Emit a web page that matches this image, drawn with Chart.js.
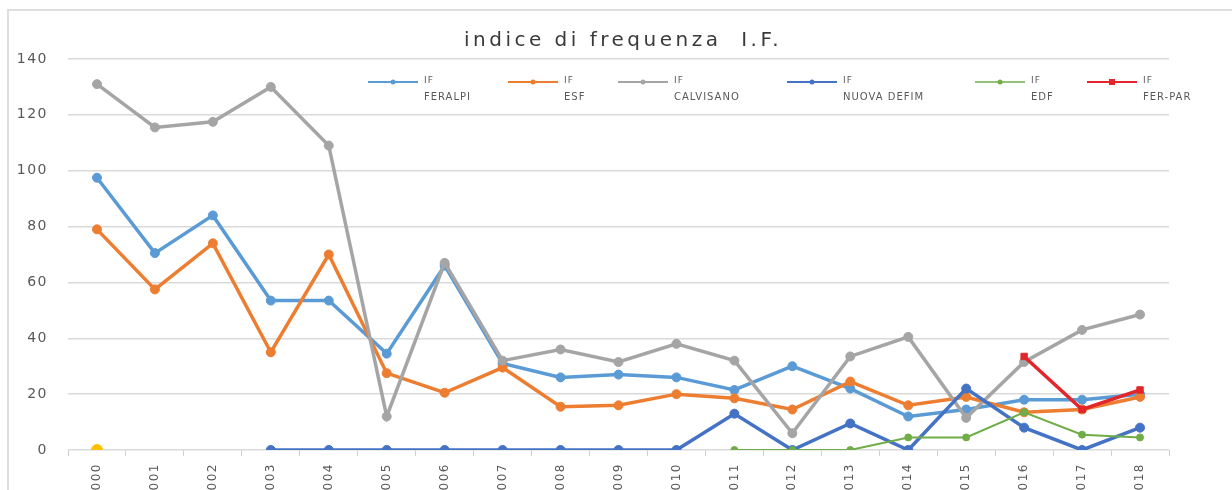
<!DOCTYPE html>
<html>
<head>
<meta charset="utf-8">
<script src="https://cdn.jsdelivr.net/npm/chart.js@4.4.1/dist/chart.umd.min.js"></script>
<style>
    html, body { margin: 0; padding: 0; background: #fff; overflow: hidden; }
    #wrap { position: relative; width: 1232px; height: 490px; overflow: hidden; }
    #frame { position: absolute; left: 7px; top: 9px; right: -2px; bottom: -2px; border-left: 2px solid #dedede; border-top: 2px solid #dedede; }
    #chart { position: absolute; left: 0; top: 0; }
</style>
</head>
<body>
<div id="wrap">
    <div id="frame"></div>
    <canvas id="chart" width="1232" height="520"></canvas>
</div>
<script>
const titleText = 'indice di frequenza  I.F.';
const years = ['2000', '2001', '2002', '2003', '2004', '2005', '2006', '2007', '2008', '2009',
    '2010', '2011', '2012', '2013', '2014', '2015', '2016', '2017', '2018'];
const yTicks = [0, 20, 40, 60, 80, 100, 120, 140];

const seriesNames = ['FERALPI', 'ESF', 'CALVISANO', 'NUOVA DEFIM', 'EDF', 'FER-PAR'];
const ifFeralpi = [97.5, 70.5, 84, 53.5, 53.5, 34.5, 66, 31, 26, 27, 26, 21.5, 30, 22, 12, 14.5, 18, 18, 20];
const ifEsf = [79, 57.5, 74, 35, 70, 27.5, 20.5, 29.5, 15.5, 16, 20, 18.5, 14.5, 24.5, 16, 19, 13.5, 14.5, 19];
const ifCalvisano = [131, 115.5, 117.5, 130, 109, 12, 67, 32, 36, 31.5, 38, 32, 6, 33.5, 40.5, 11.5, 31.5, 43, 48.5];
const ifNuovaDefim = [null, null, null, 0, 0, 0, 0, 0, 0, 0, 0, 13, 0, 9.5, 0, 22, 8, 0, 8];
const ifEdf = [null, null, null, null, null, null, null, null, null, null, null, 0, 0, 0, 4.5, 4.5, 13.5, 5.5, 4.5];
const ifFerPar = [null, null, null, null, null, null, null, null, null, null, null, null, null, null, null, null, 33.5, 14.5, 21.5];
const ifOther = [0, null, null, null, null, null, null, null, null, null, null, null, null, null, null, null, null, null, null];

const colors = ['#5B9BD5', '#ED7D31', '#A5A5A5', '#4472C4', '#70AD47', '#E3262B', '#FFC000'];
const allSeries = [ifFeralpi, ifEsf, ifCalvisano, ifNuovaDefim, ifEdf, ifFerPar, ifOther];

// legend item left edges (Excel places them unevenly)
const legendX = [368, 508, 618, 787, 975, 1087];

function makeDataset(values, i) {
    const thin = i === 4;
    return {
        label: seriesNames[i] || '',
        data: values,
        borderColor: colors[i],
        backgroundColor: colors[i],
        borderWidth: thin ? 2 : 3.5,
        pointRadius: thin ? 3.5 : (i === 6 ? 5.5 : 4.5),
        pointBorderWidth: 1,
        pointStyle: i === 5 ? 'rect' : 'circle',
        spanGaps: false,
        tension: 0,
        order: 10 - i // later series drawn on top, like Excel
    };
}

const overlay = {
    id: 'overlay',
    beforeDraw(chart) {
        chart.ctx.letterSpacing = '1.5px';
    },
    afterDraw(chart) {
        const ctx = chart.ctx;
        ctx.save();
        ctx.letterSpacing = '3.5px';
        ctx.font = '20px "DejaVu Sans"';
        ctx.fillStyle = '#3a3a3a';
        ctx.textAlign = 'center';
        ctx.textBaseline = 'middle';
        ctx.fillText(titleText, 623, 41);

        ctx.letterSpacing = '1px';
        ctx.textAlign = 'left';
        seriesNames.forEach((name, i) => {
            const x = legendX[i];
            const y = 82;
            ctx.strokeStyle = colors[i];
            ctx.fillStyle = colors[i];
            ctx.lineWidth = i === 4 ? 1.5 : 2;
            ctx.beginPath();
            ctx.moveTo(x, y);
            ctx.lineTo(x + 50, y);
            ctx.stroke();
            ctx.beginPath();
            if (i === 5) {
                ctx.fillRect(x + 22, y - 3, 6, 6);
            } else {
                ctx.arc(x + 25, y, 2.5, 0, Math.PI * 2);
                ctx.fill();
            }
            ctx.fillStyle = '#595959';
            ctx.font = '9px "DejaVu Sans"';
            ctx.fillText('IF', x + 56, y - 1);
            ctx.font = '10px "DejaVu Sans"';
            ctx.fillText(name, x + 56, y + 15);
        });
        ctx.restore();
    }
};

new Chart(document.getElementById('chart'), {
    type: 'line',
    data: {
        labels: years,
        datasets: allSeries.map(makeDataset)
    },
    plugins: [overlay],
    options: {
        responsive: false,
        animation: false,
        layout: { padding: { left: 10, right: 63, top: 59, bottom: 0 } },
        plugins: {
            legend: { display: false },
            title: { display: false },
            tooltip: { enabled: false }
        },
        scales: {
            x: {
                type: 'category',
                offset: true,
                grid: {
                    display: true,
                    drawOnChartArea: false,
                    drawTicks: true,
                    tickLength: 6,
                    offset: true,
                    color: '#d0d0d0'
                },
                border: { display: false },
                ticks: {
                    minRotation: 90,
                    maxRotation: 90,
                    autoSkip: false,
                    padding: 7,
                    color: '#595959',
                    font: { family: 'DejaVu Sans', size: 12 }
                },
                afterFit(scale) { scale.height = 70; }
            },
            y: {
                min: 0,
                max: 140,
                afterBuildTicks(scale) {
                    scale.ticks = yTicks.map(v => ({ value: v }));
                },
                grid: { color: '#dadada', lineWidth: 1.5, drawTicks: false },
                border: { display: false },
                ticks: {
                    padding: 20,
                    color: '#595959',
                    font: { family: 'DejaVu Sans', size: 14 }
                },
                afterFit(scale) { scale.width = 58; }
            }
        }
    }
});
</script>
</body>
</html>
